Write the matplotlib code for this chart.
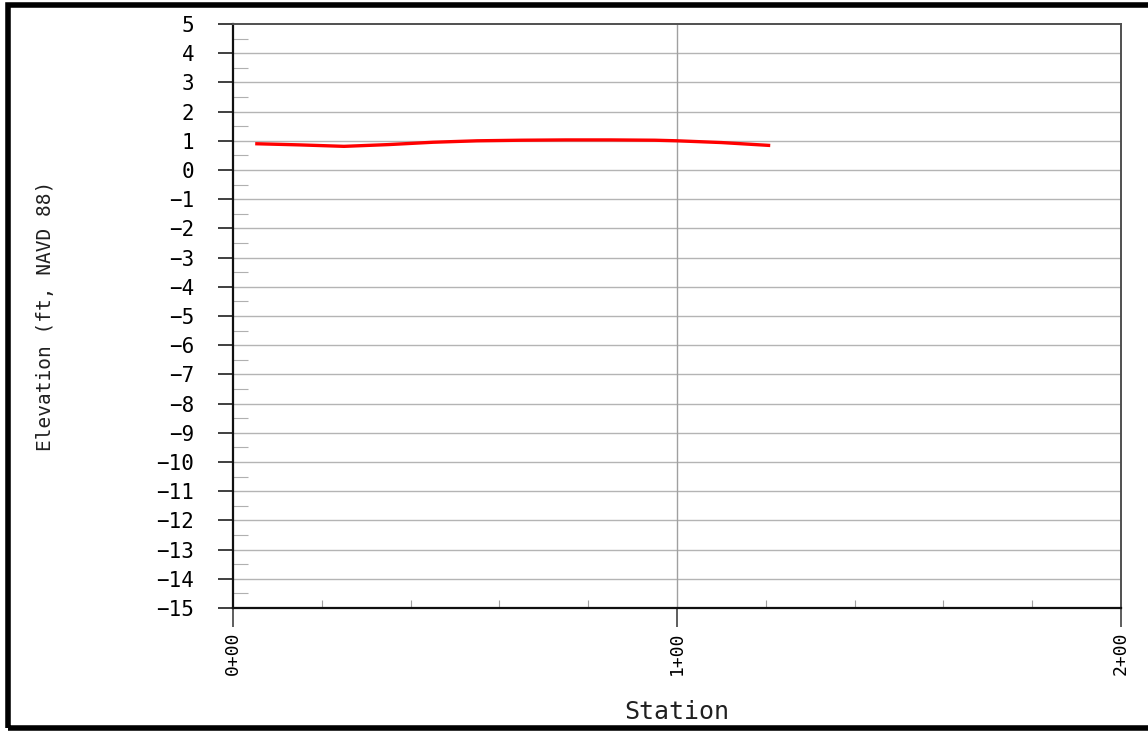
"""Profile plot of ground elevation along the surveyed station line."""

import matplotlib.pyplot as plt
from matplotlib.patches import Rectangle
from matplotlib.ticker import FixedLocator, MultipleLocator

# Surveyed profile: station (ft along line) and elevation (ft, NAVD 88)
stations = [5, 15, 25, 35, 45, 55, 65, 75, 85, 95, 100, 110, 121]
elevations = [0.90, 0.86, 0.81, 0.87, 0.95, 1.00, 1.02, 1.03, 1.03, 1.02,
              1.00, 0.94, 0.84]

station_ticks = [0, 100, 200]
station_labels = ["0+00", "1+00", "2+00"]
elevation_ticks = list(range(-15, 6))

MONO = "DejaVu Sans Mono"

figure = plt.figure(figsize=(11.48, 7.32), dpi=100)
axis = figure.add_axes([233 / 1148, 1 - 608 / 732, 888 / 1148, 584 / 732])

axis.plot(stations, elevations, color="#ff0000", linewidth=2.4,
          solid_capstyle="butt", zorder=3)

axis.set_xlim(0, 200)
axis.set_ylim(-15, 5)

# horizontal grid at every foot, vertical grid at the middle station only
for level in elevation_ticks[1:-1]:
    axis.axhline(level, color="#b4b4b4", linewidth=1.0, zorder=1)
axis.axvline(100, color="#a0a0a0", linewidth=1.0, zorder=1)

axis.yaxis.set_major_locator(FixedLocator(elevation_ticks))
axis.yaxis.set_minor_locator(MultipleLocator(0.5))
axis.set_yticklabels(
    [str(v).replace("-", "\u2212") for v in elevation_ticks],
    family=MONO, fontsize=15,
)
axis.tick_params(axis="y", which="major", direction="out", length=11,
                 width=1.3, color="#303030", pad=17)
axis.tick_params(axis="y", which="minor", direction="in", length=11,
                 width=0.8, color="#b0b0b0")

axis.xaxis.set_major_locator(FixedLocator(station_ticks))
axis.xaxis.set_minor_locator(MultipleLocator(20))
axis.set_xticklabels(station_labels, family=MONO, fontsize=13, rotation=90)
axis.tick_params(axis="x", which="major", direction="out", length=14,
                 width=1.3, color="#505050", pad=3)
axis.tick_params(axis="x", which="minor", direction="in", length=6,
                 width=0.8, color="#a0a0a0")

for side in ("left", "bottom"):
    axis.spines[side].set_color("#101010")
    axis.spines[side].set_linewidth(1.6)
for side in ("top", "right"):
    axis.spines[side].set_color("#505050")
    axis.spines[side].set_linewidth(1.4)

figure.text(46 / 1148, 1 - 316 / 732, "Elevation (ft, NAVD 88)",
            family=MONO, fontsize=14, rotation=90,
            ha="center", va="center", color="#202020")
figure.text(677 / 1148, 1 - 712 / 732, "Station",
            family=MONO, fontsize=18, ha="center", va="center",
            color="#202020")

# heavy frame around the whole sheet
figure.patches.append(Rectangle(
    (7.5 / 1148, 4.5 / 732), 1.2, 1 - 9 / 732,
    transform=figure.transFigure, fill=False,
    edgecolor="black", linewidth=4.0, clip_on=False,
))

figure.savefig("out.png", dpi=100)
plt.close(figure)
